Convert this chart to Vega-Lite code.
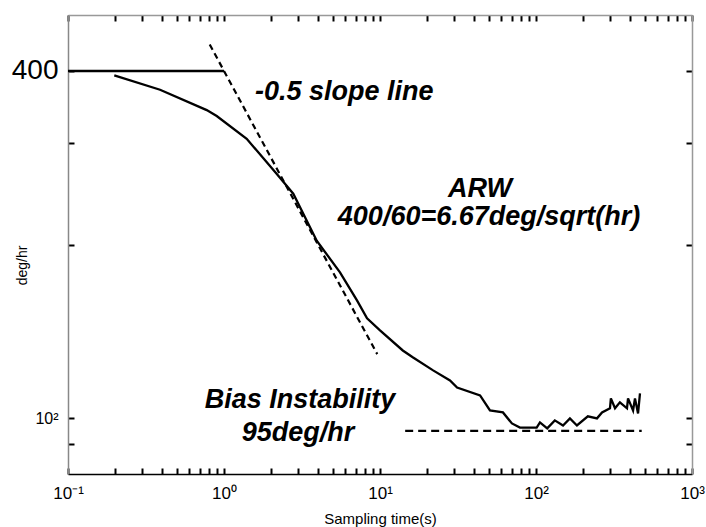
{
  "$schema": "https://vega.github.io/schema/vega-lite/v6.json",
  "width": 624,
  "height": 459,
  "autosize": "none",
  "padding": {"left": 68, "top": 15, "right": 14, "bottom": 53},
  "background": "white",
  "config": {"view": {"stroke": null}, "font": "Liberation Sans"},
  "datasets": {
    "curve": [
      {"t": 0.198, "v": 393}, {"t": 0.389, "v": 371}, {"t": 0.775, "v": 342}, {"t": 0.898, "v": 334},
      {"t": 1.398, "v": 305}, {"t": 2.18, "v": 265}, {"t": 2.78, "v": 245}, {"t": 3.93, "v": 203},
      {"t": 5.54, "v": 179}, {"t": 7.12, "v": 160}, {"t": 8.26, "v": 149}, {"t": 10.0, "v": 142},
      {"t": 14.0, "v": 131}, {"t": 16.3, "v": 127.4}, {"t": 21.9, "v": 121}, {"t": 28.1, "v": 116.2},
      {"t": 31.2, "v": 113}, {"t": 43.8, "v": 109.5}, {"t": 50.7, "v": 103.1}, {"t": 61.4, "v": 102.3},
      {"t": 70.1, "v": 97.9}, {"t": 78.9, "v": 96.3}, {"t": 101, "v": 96.3}, {"t": 106, "v": 98.3},
      {"t": 118, "v": 96.0}, {"t": 132, "v": 99.1}, {"t": 149, "v": 97.1}, {"t": 165, "v": 99.9},
      {"t": 183, "v": 97.1}, {"t": 215, "v": 100.7}, {"t": 246, "v": 99.9}, {"t": 265, "v": 102.3},
      {"t": 298, "v": 104.0}, {"t": 302, "v": 108.2}, {"t": 321, "v": 104.0}, {"t": 345, "v": 106.5},
      {"t": 383, "v": 104.0}, {"t": 389, "v": 108.2}, {"t": 419, "v": 103.1}, {"t": 431, "v": 108.2},
      {"t": 451, "v": 101.9}, {"t": 464, "v": 110.4}
    ],
    "flat": [{"t": 0.1, "v": 400}, {"t": 1, "v": 400}],
    "slope": [{"t": 0.81, "v": 444.4}, {"t": 9.6, "v": 129.1}],
    "bias": [{"t": 14.5, "v": 95}, {"t": 476, "v": 95}],
    "leftText": [{"t": 1.58, "v": 368, "label": "-0.5 slope line"}],
    "centerText": [
      {"t": 43.8, "v": 250, "label": "ARW"},
      {"t": 50.0, "v": 222.9, "label": "400/60=6.67deg/sqrt(hr)"},
      {"t": 3.07, "v": 107.3, "label": "Bias Instability"},
      {"t": 2.98, "v": 94.4, "label": "95deg/hr"}
    ]
  },
  "layer": [
    {
      "data": {"name": "curve"},
      "mark": {"type": "line", "color": "black", "strokeWidth": 2.3},
      "encoding": {
        "x": {
          "field": "t", "type": "quantitative",
          "scale": {"type": "log", "domain": [0.1, 1000], "nice": false},
          "axis": {
            "orient": "bottom",
            "values": [0.1,0.2,0.3,0.4,0.5,0.6,0.7,0.8,0.9,1,2,3,4,5,6,7,8,9,10,20,30,40,50,60,70,80,90,100,200,300,400,500,600,700,800,900,1000],
            "labelExpr": "datum.value==0.1?'10⁻¹':datum.value==1?'10⁰':datum.value==10?'10¹':datum.value==100?'10²':datum.value==1000?'10³':''",
            "grid": false, "ticks": true, "tickSize": -6, "tickColor": "black", "tickWidth": 2,
            "domainColor": "black", "domainWidth": 1.5,
            "labelFontSize": 17, "labelColor": "black", "labelPadding": 17,
            "labelFlush": false, "labelOverlap": false,
            "title": "Sampling time(s)", "titleFontSize": 15, "titleFontWeight": "normal",
            "titleColor": "black", "titleY": 37, "titleBaseline": "top"
          }
        },
        "y": {
          "field": "v", "type": "quantitative",
          "scale": {"type": "log", "domain": [80, 500], "nice": false},
          "axis": {
            "orient": "left",
            "values": [90, 100, 200, 300, 400],
            "labelExpr": "datum.value==400?'400':datum.value==100?'10²':''",
            "labelFontSize": {"condition": {"test": "datum.value==400", "value": 28}, "value": 16},
            "grid": false, "tickSize": -6, "tickColor": "black", "tickWidth": 2,
            "domainColor": "#888", "domainWidth": 1.5,
            "labelColor": "black", "labelPadding": 16, "labelOverlap": false, "labelFlush": false,
            "title": "deg/hr", "titleFontSize": 14, "titleFontWeight": "normal", "titleColor": "black",
            "titleX": -46, "titleY": 250, "titleAngle": -90, "titleAlign": "center", "titleBaseline": "middle"
          }
        }
      }
    },
    {
      "data": {"name": "flat"},
      "mark": {"type": "line", "color": "black", "strokeWidth": 2.5},
      "encoding": {
        "x": {
          "field": "t", "type": "quantitative",
          "scale": {"type": "log", "domain": [0.1, 1000], "nice": false},
          "axis": {
            "orient": "top",
            "values": [0.1,0.2,0.3,0.4,0.5,0.6,0.7,0.8,0.9,1,2,3,4,5,6,7,8,9,10,20,30,40,50,60,70,80,90,100,200,300,400,500,600,700,800,900,1000],
            "labels": false, "grid": false, "ticks": true, "tickSize": -6, "tickColor": "black", "tickWidth": 2,
            "domainColor": "#999", "domainWidth": 1.5, "title": null
          }
        },
        "y": {
          "field": "v", "type": "quantitative",
          "scale": {"type": "log", "domain": [80, 500], "nice": false},
          "axis": {
            "orient": "right",
            "values": [90, 100, 200, 300, 400],
            "labels": false, "grid": false, "tickSize": -6, "tickColor": "black", "tickWidth": 2,
            "domainColor": "#999", "domainWidth": 1.5, "title": null
          }
        }
      }
    },
    {
      "data": {"name": "slope"},
      "mark": {"type": "line", "color": "black", "strokeWidth": 2.2, "strokeDash": [6, 4]},
      "encoding": {
        "x": {"field": "t", "type": "quantitative", "axis": null},
        "y": {"field": "v", "type": "quantitative", "axis": null}
      }
    },
    {
      "data": {"name": "bias"},
      "mark": {"type": "line", "color": "black", "strokeWidth": 2.2, "strokeDash": [8, 5]},
      "encoding": {
        "x": {"field": "t", "type": "quantitative", "axis": null},
        "y": {"field": "v", "type": "quantitative", "axis": null}
      }
    },
    {
      "data": {"name": "leftText"},
      "mark": {"type": "text", "align": "left", "baseline": "middle", "fontSize": 27, "fontWeight": "bold", "fontStyle": "italic", "color": "black", "font": "Liberation Sans"},
      "encoding": {
        "x": {"field": "t", "type": "quantitative", "axis": null},
        "y": {"field": "v", "type": "quantitative", "axis": null},
        "text": {"field": "label"}
      }
    },
    {
      "data": {"name": "centerText"},
      "mark": {"type": "text", "align": "center", "baseline": "middle", "fontSize": 27, "fontWeight": "bold", "fontStyle": "italic", "color": "black", "font": "Liberation Sans"},
      "encoding": {
        "x": {"field": "t", "type": "quantitative", "axis": null},
        "y": {"field": "v", "type": "quantitative", "axis": null},
        "text": {"field": "label"}
      }
    }
  ],
  "resolve": {"axis": {"x": "independent", "y": "independent"}}
}
